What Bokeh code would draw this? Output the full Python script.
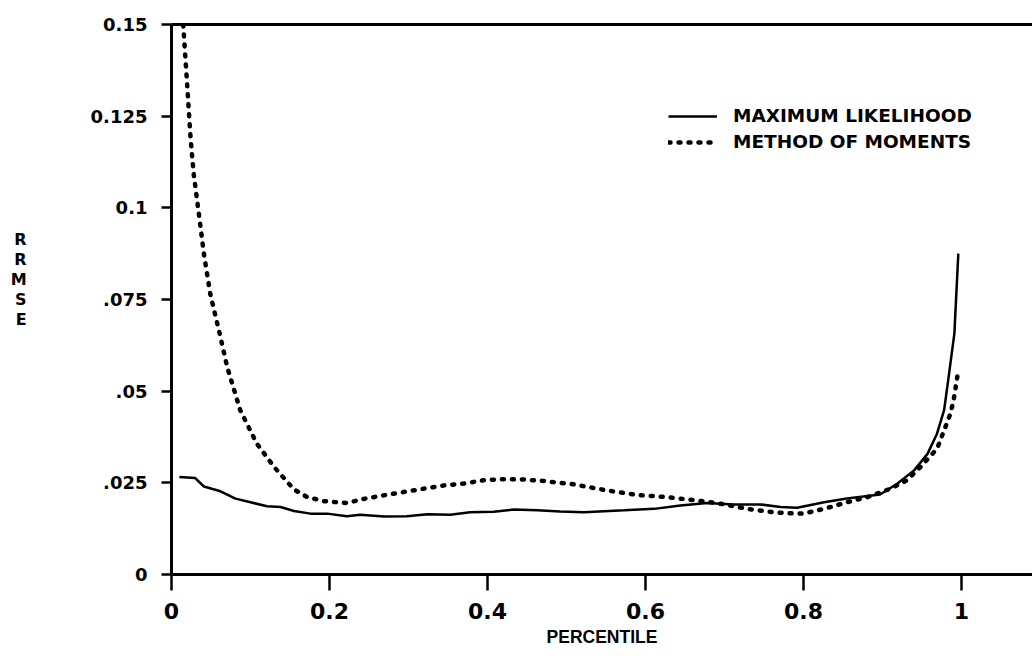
from bokeh.plotting import figure
from bokeh.models import Range1d, LinearAxis, FixedTicker, Legend, LegendItem
from bokeh.embed import file_html
from bokeh.resources import INLINE

# ---- data ----
ml_x = [0.010, 0.030, 0.041, 0.062, 0.081, 0.100, 0.121, 0.138, 0.155, 0.176,
        0.197, 0.222, 0.239, 0.269, 0.298, 0.324, 0.353, 0.378, 0.408, 0.433,
        0.463, 0.492, 0.522, 0.573, 0.611, 0.644, 0.678, 0.712, 0.746, 0.771,
        0.792, 0.826, 0.855, 0.897, 0.919, 0.940, 0.957, 0.969, 0.978, 0.982,
        0.991, 0.996]
ml_y = [0.0266, 0.0263, 0.0240, 0.0227, 0.0207, 0.0197, 0.0186, 0.0184, 0.0173, 0.0166,
        0.0166, 0.0159, 0.0163, 0.0158, 0.0159, 0.0164, 0.0163, 0.0170, 0.0171, 0.0177,
        0.0175, 0.0172, 0.0170, 0.0175, 0.0179, 0.0188, 0.0195, 0.0191, 0.0191, 0.0184,
        0.0182, 0.0197, 0.0207, 0.0218, 0.0248, 0.0284, 0.0329, 0.0384, 0.0448, 0.0511,
        0.0657, 0.0875]

mom_x = [0.0148, 0.020, 0.024, 0.028, 0.0346, 0.041, 0.049, 0.061, 0.0705, 0.087,
         0.108, 0.130, 0.155, 0.172, 0.193, 0.222, 0.243, 0.269, 0.294, 0.319,
         0.345, 0.370, 0.395, 0.421, 0.446, 0.471, 0.509, 0.552, 0.589, 0.627,
         0.665, 0.695, 0.729, 0.762, 0.779, 0.800, 0.826, 0.855, 0.881, 0.910,
         0.931, 0.948, 0.969, 0.978, 0.986, 0.990, 0.996]
mom_y = [0.1500, 0.1330, 0.1194, 0.1094, 0.0984, 0.0875, 0.0766, 0.0657, 0.0566, 0.0448,
         0.0357, 0.0293, 0.0232, 0.0211, 0.0200, 0.0195, 0.0206, 0.0216, 0.0225, 0.0234,
         0.0243, 0.0248, 0.0257, 0.0260, 0.0259, 0.0255, 0.0246, 0.0229, 0.0217, 0.0211,
         0.0202, 0.0193, 0.0179, 0.0170, 0.0167, 0.0166, 0.0179, 0.0197, 0.0211, 0.0234,
         0.0257, 0.0293, 0.0343, 0.0393, 0.0439, 0.0475, 0.0557]

series_names = ["MAXIMUM LIKELIHOOD", "METHOD OF MOMENTS"]
x_ticks = [0, 0.2, 0.4, 0.6, 0.8, 1.0]
x_tick_labels = ["0", "0.2", "0.4", "0.6", "0.8", "1"]
y_ticks = [0, 0.025, 0.05, 0.075, 0.1, 0.125, 0.15]
y_tick_labels = ["0", ".025", ".05", ".075", "0.1", "0.125", "0.15"]
x_title = "PERCENTILE"
y_title = "RRMSE"

FONT = "DejaVu Sans"

p = figure(width=1032, height=655,
           x_range=Range1d(0, 1.0899), y_range=Range1d(0, 0.15),
           output_backend="svg", toolbar_location=None,
           min_border_left=171, min_border_right=0,
           min_border_top=24, min_border_bottom=81,
           background_fill_color="white", border_fill_color="white",
           outline_line_color=None)
p.grid.visible = False

# x axis
xa = p.xaxis[0]
xa.ticker = FixedTicker(ticks=x_ticks)
xa.major_label_overrides = {t: l for t, l in zip(x_ticks, x_tick_labels)}
xa.axis_line_width = 3
xa.major_tick_line_width = 2.5
xa.major_tick_out = 16
xa.major_tick_in = 0
xa.minor_tick_out = 0
xa.minor_tick_in = 0
xa.major_label_standoff = 12
xa.major_label_text_font = FONT
xa.major_label_text_font_style = "bold"
xa.major_label_text_font_size = "22px"
xa.major_label_text_color = "black"
xa.axis_label = x_title
xa.axis_label_standoff = 5
xa.axis_label_text_font = "Liberation Sans"
xa.axis_label_text_font_style = "bold"
xa.axis_label_text_font_size = "17.5px"
xa.axis_label_text_color = "black"

# y axis
ya = p.yaxis[0]
ya.ticker = FixedTicker(ticks=y_ticks)
ya.major_label_overrides = {t: l for t, l in zip(y_ticks, y_tick_labels)}
ya.axis_line_width = 3
ya.major_tick_line_width = 2.5
ya.major_tick_out = 10
ya.major_tick_in = 0
ya.minor_tick_out = 0
ya.minor_tick_in = 0
ya.major_label_standoff = 14
ya.major_label_text_font = FONT
ya.major_label_text_font_style = "bold"
ya.major_label_text_font_size = "18px"
ya.major_label_text_color = "black"
if "axis_label_orientation" in ya.properties():
    ya.axis_label = "\n".join(y_title) + "\n\n"
    ya.axis_label_orientation = "horizontal"
    ya.axis_label_standoff = 61
else:
    ya.axis_label = y_title
    ya.axis_label_standoff = 50
ya.axis_label_text_font = FONT
ya.axis_label_text_font_style = "bold"
ya.axis_label_text_font_size = "16px"
ya.axis_label_text_line_height = 1.05
ya.axis_label_text_color = "black"

# top frame line
top = LinearAxis(ticker=FixedTicker(ticks=[]), axis_line_width=3,
                 major_tick_out=0, major_tick_in=0, minor_tick_out=0, minor_tick_in=0,
                 major_label_text_font_size="0px")
p.add_layout(top, "above")

r_ml = p.line(ml_x, ml_y, line_color="black", line_width=2.5)
r_mom = p.line(mom_x, mom_y, line_color="black", line_width=4.5,
               line_dash="2 8", line_cap="round")

legend = Legend(items=[LegendItem(label=series_names[0], renderers=[r_ml]),
                       LegendItem(label=series_names[1], renderers=[r_mom])],
                location=(497, 422), orientation="vertical",
                glyph_width=49, glyph_height=20, label_height=20,
                label_standoff=16, spacing=5, padding=0, margin=0,
                border_line_alpha=0, background_fill_alpha=0,
                label_text_font=FONT, label_text_font_style="bold",
                label_text_font_size="18.5px", label_text_color="black")
p.add_layout(legend)

open("out.html", "w").write(file_html(p, INLINE))
